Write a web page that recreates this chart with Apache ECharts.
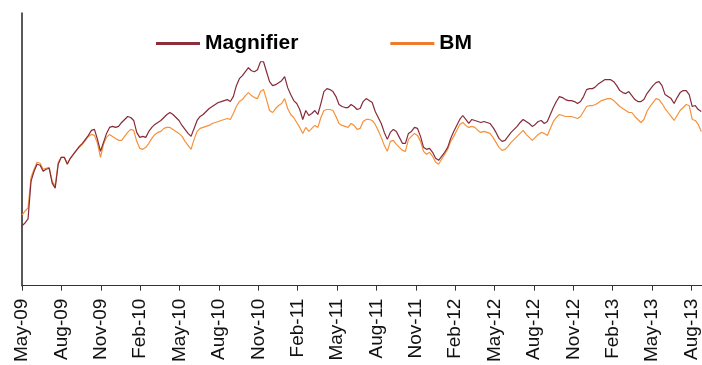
<!DOCTYPE html>
<html>
<head>
<meta charset="utf-8">
<script src="https://cdn.jsdelivr.net/npm/echarts@6/dist/echarts.min.js"></script>
<style>
  html, body { margin: 0; padding: 0; background: #fff; }
  #chart { width: 702px; height: 365px; }
</style>
</head>
<body>
<div id="chart"></div>
<script>
  // weekly index levels, first week = start of May 2009
  const monthNames = ['Jan', 'Feb', 'Mar', 'Apr', 'May', 'Jun', 'Jul', 'Aug', 'Sep', 'Oct', 'Nov', 'Dec'];
  const startMonth = 4;   // May
  const startYear = 2009;
  const monthsPerWeek = 7 / 30.4375;

  const magnifier = [
    95, 98, 102, 140, 150, 157, 156, 150, 152, 153,
    138, 133, 157, 164, 164, 157, 163, 167, 171, 175,
    178, 182, 186, 191, 192, 182, 170, 179, 188, 194,
    195, 194, 195, 199, 202, 205, 204, 201, 189, 184,
    185, 184, 190, 194, 197, 199, 201, 204, 207, 209,
    207, 204, 201, 196, 192, 188, 185, 193, 201, 205,
    207, 210, 213, 215, 217, 219, 220, 221, 222, 220,
    225, 236, 243, 246, 250, 254, 251, 250, 252, 260,
    260, 250, 240, 236, 237, 239, 241, 245, 234, 227,
    221, 218, 212, 202, 211, 206, 208, 211, 207, 218,
    230, 233, 232, 230, 225, 217, 215, 214, 214, 217,
    215, 212, 213, 220, 223, 221, 219, 210, 204, 198,
    189, 182, 189, 192, 190, 184, 178, 178, 188, 190,
    194, 193, 185, 174, 172, 173, 169, 163, 161, 165,
    169, 174, 183, 190, 196, 202, 206, 202, 198, 202,
    201, 200, 199, 200, 199, 198, 194, 189, 183, 180,
    181, 185, 189, 192, 195, 199, 202, 200, 198, 195,
    197, 200, 201, 198, 200, 207, 214, 220, 225, 224,
    222, 221, 221, 220, 218, 220, 225, 232, 233, 233,
    235, 238, 240, 242, 242, 242, 240, 236, 231, 229,
    228, 230, 226, 222, 220, 220, 222, 228, 232, 236,
    239, 240, 236, 227, 225, 223, 218, 224, 229, 231,
    231, 227, 215, 216, 212, 210
  ];

  const bm = [
    106, 110, 113, 144, 152, 159, 158, 152, 153, 154,
    140, 135, 159, 164, 164, 158, 163, 167, 171, 174,
    177, 181, 185, 187, 186, 178, 164, 177, 184, 187,
    185, 183, 181, 181, 185, 189, 192, 191, 180, 173,
    172, 174, 178, 183, 187, 189, 190, 193, 194, 194,
    192, 190, 188, 185, 180, 176, 172, 182, 190, 193,
    194, 195, 196, 198, 199, 200, 201, 202, 203, 202,
    208, 215, 220, 222, 226, 229, 226, 224, 223, 230,
    232, 222, 211, 209, 213, 216, 218, 223, 213, 207,
    204, 199, 194, 188, 194, 190, 193, 196, 194, 204,
    211, 212, 212, 211, 205, 198, 196, 195, 194, 198,
    196, 192, 193, 200, 202, 202, 201, 197, 191, 184,
    176, 170, 180, 181, 177, 174, 171, 170, 182, 185,
    188, 186, 180, 170, 167, 169, 165, 159, 157, 162,
    167, 172, 180, 185, 191, 197, 199, 196, 194, 195,
    194, 191, 189, 190, 189, 188, 184, 179, 174, 171,
    172, 175, 179, 182, 185, 188, 191, 187, 184, 181,
    184, 187, 189, 188, 186, 193, 200, 204, 207, 206,
    205, 205, 205, 204, 203, 205, 210, 215, 216, 216,
    217, 219, 221, 222, 223, 223, 221, 218, 215, 213,
    211, 209, 209, 205, 202, 199, 202, 210, 215, 219,
    223, 222, 218, 213, 209, 205, 201, 206, 211, 214,
    217, 216, 202, 201, 197, 190
  ];

  function toPoints(arr) {
    return arr.map((v, i) => [i * monthsPerWeek, v]);
  }

  function monthLabel(v) {
    if (v % 3 !== 0) return '';
    const m = startMonth + v;
    const yy = String((startYear + Math.floor(m / 12)) % 100).padStart(2, '0');
    return monthNames[m % 12] + '-' + yy;
  }

  const myChart = echarts.init(document.getElementById('chart'));
  const option = {
    animation: false,
    backgroundColor: '#fff',
    grid: {
      left: 22,
      right: 0,
      top: 13,
      bottom: 78
    },
    legend: {
      data: ['Magnifier', 'BM'],
      left: 151,
      top: 28,
      icon: 'rect',
      itemWidth: 44,
      itemHeight: 3,
      itemGap: 92,
      textStyle: {
        fontFamily: 'Liberation Sans, Arial, sans-serif',
        fontWeight: 'bold',
        fontSize: 21,
        color: '#000'
      }
    },
    xAxis: {
      type: 'value',
      min: 0,
      max: 51.8,
      interval: 3,
      splitLine: { show: false },
      axisLine: { lineStyle: { color: '#333', width: 1 } },
      axisTick: { show: true, length: 5, lineStyle: { color: '#333' } },
      axisLabel: {
        rotate: 90,
        margin: 13,
        showMaxLabel: false,
        fontFamily: 'Liberation Sans, Arial, sans-serif',
        fontSize: 19,
        color: '#111',
        formatter: monthLabel
      }
    },
    yAxis: {
      type: 'value',
      min: 35,
      max: 309,
      splitLine: { show: false },
      axisLine: { show: true, lineStyle: { color: '#222', width: 1.5 } },
      axisTick: { show: false },
      axisLabel: { show: false }
    },
    series: [
      {
        name: 'BM',
        type: 'line',
        symbol: 'none',
        data: toPoints(bm),
        itemStyle: { color: '#F07A30' },
        lineStyle: { color: '#F7913A', width: 1.2 }
      },
      {
        name: 'Magnifier',
        type: 'line',
        symbol: 'none',
        data: toPoints(magnifier),
        itemStyle: { color: '#8B2F3C' },
        lineStyle: { color: '#862B3A', width: 1.2 }
      }
    ]
  };
  myChart.setOption(option);
</script>
</body>
</html>
